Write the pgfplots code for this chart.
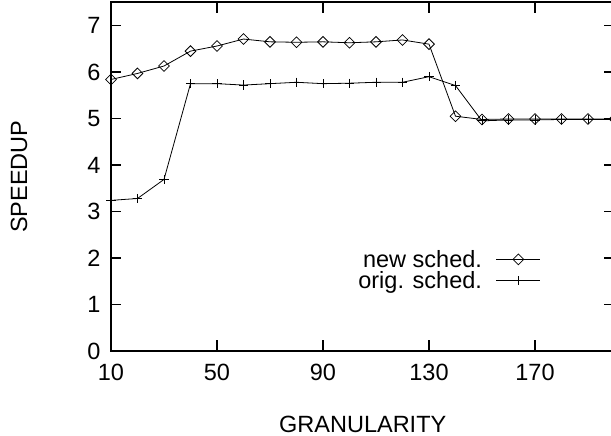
\documentclass[border=0pt]{standalone}
\usepackage{pgfplots}
\pgfplotsset{compat=1.18}
\usepackage{fontspec}
\setmainfont{Liberation Sans}
\usetikzlibrary{calc}
\begin{document}
\begin{tikzpicture}
\begin{axis}[
  name=ax,
  scale only axis,
  width=503.5pt, height=348.7pt,
  xmin=10, xmax=200, ymin=0, ymax=7.5,
  xtick={10,50,90,130,170},
  ytick={0,1,2,3,4,5,6,7},
  font=\fontsize{23.5}{27}\selectfont,
  /pgf/number format/assume math mode=true,
  major tick length=10.5pt,
  tick style={black, line width=1.2pt},
  axis line style={line width=2pt},
  tick align=inside,
  xlabel={GRANULARITY},
  ylabel={SPEEDUP},
  every axis x label/.style={at={(rel axis cs:0.5,0)}, yshift=-73pt, anchor=center},
  every axis y label/.style={at={(rel axis cs:0,0.5)}, xshift=-92pt, anchor=center, rotate=90},
  xticklabel style={yshift=-10pt},
  yticklabel style={xshift=-7pt},
  legend plot pos=right,
  legend cell align=right,
  legend style={draw=none, fill=none, at={(rel axis cs:0.854,0.232)}, anchor=east,
    inner sep=0pt, row sep=-1pt, column sep=12pt, font=\fontsize{23.5}{27}\selectfont,
    nodes={inner sep=2pt}},
  legend image code/.code={
    \draw[#1, mark=none] (0pt,0pt) -- (44pt,0pt);
    \draw[#1, only marks] plot coordinates {(22pt,0pt)};
  },
]
\addplot[black, line width=0.8pt, mark=square, mark size=3.8pt, mark options={rotate=45, solid, line width=0.8pt}] coordinates {
(10,5.84) (20,5.97) (30,6.13) (40,6.45) (50,6.56) (60,6.71) (70,6.65) (80,6.64) (90,6.65) (100,6.63)
(110,6.65) (120,6.69) (130,6.60) (140,5.05) (150,4.98) (160,4.99) (170,4.99) (180,4.99) (190,4.99) (200,4.99)
};
\addlegendentry{new sched.}
\addplot[black, line width=0.8pt, mark=+, mark size=4.6pt, mark options={line width=0.8pt}] coordinates {
(10,3.24) (20,3.28) (30,3.69) (40,5.75) (50,5.75) (60,5.72) (70,5.75) (80,5.78) (90,5.75) (100,5.76)
(110,5.78) (120,5.78) (130,5.90) (140,5.71) (150,4.95) (160,4.97) (170,4.97) (180,4.98) (190,4.98) (200,4.98)
};
\addlegendentry{orig. sched.}
\end{axis}
\pgfresetboundingbox
\useasboundingbox ($(ax.south west)+(-111pt,-85pt)$) rectangle ($(ax.south west)+(500pt,351pt)$);
\end{tikzpicture}
\end{document}
